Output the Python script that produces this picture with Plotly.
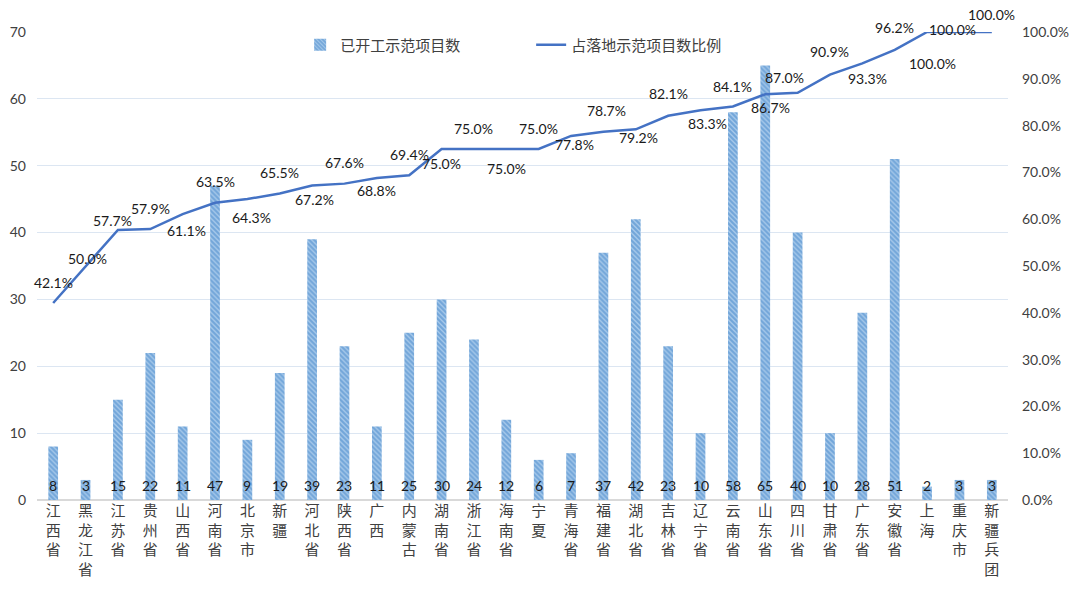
import plotly.graph_objects as go

categories = ["江西省", "黑龙江省", "江苏省", "贵州省", "山西省", "河南省", "北京市", "新疆",
              "河北省", "陕西省", "广西", "内蒙古", "湖南省", "浙江省", "海南省", "宁夏",
              "青海省", "福建省", "湖北省", "吉林省", "辽宁省", "云南省", "山东省", "四川省",
              "甘肃省", "广东省", "安徽省", "上海", "重庆市", "新疆兵团"]
started = [8, 3, 15, 22, 11, 47, 9, 19, 39, 23, 11, 25, 30, 24, 12, 6, 7, 37, 42, 23,
           10, 58, 65, 40, 10, 28, 51, 2, 3, 3]
ratio = [0.421, 0.500, 0.577, 0.579, 0.611, 0.635, 0.643, 0.655, 0.672, 0.676, 0.688, 0.694,
         0.750, 0.750, 0.750, 0.750, 0.778, 0.787, 0.792, 0.821, 0.833, 0.841, 0.867, 0.870,
         0.909, 0.933, 0.962, 1.000, 1.000, 1.000]

# label offsets in pixels (style only): horizontal and vertical shift of each ratio label
label_dx = [0, 2, -5, 0, 4, 0, 4, 0, 2, 0, 0, 0, 0, 0, 0, 0,
            3, 3, 3, 0, 7, 0, 5, -13, 0, 5, 0, 5, -7, 0]
label_dy = [20, 8, 9, 21, -16, 21, -18, 21, -14, 21, -12, 21, -14, 21, -19, 21,
            -9, 21, -8, 22, -13, 20, -13, 15, 23, -15, 22, -31, 3, 18]

left_ticks = [0, 10, 20, 30, 40, 50, 60, 70]
right_ticks = [0, 0.1, 0.2, 0.3, 0.4, 0.5, 0.6, 0.7, 0.8, 0.9, 1.0]

FONT = "Lato, Noto Sans CJK SC, sans-serif"
CJK = "Noto Sans CJK SC, sans-serif"
tick_text = ["<br>".join(list(c)) for c in categories]

fig = go.Figure()
fig.add_trace(go.Bar(
    x=categories, y=started, name="已开工示范项目数", width=0.3,
    marker=dict(color="#3C82C8", line=dict(color="#5B9BD5", width=0),
                pattern=dict(shape="\\", fgcolor="#3C82C8", bgcolor="#A7C9EA",
                             size=3.5, solidity=0.6)),
    yaxis="y",
))
fig.add_trace(go.Scatter(
    x=categories, y=ratio, name="占落地示范项目数比例", mode="lines",
    line=dict(color="#4472C4", width=2.5), yaxis="y2",
))

ann = []
for c, v in zip(categories, started):
    ann.append(dict(x=c, y=0, xref="x", yref="y", text=str(v), showarrow=False,
                    yshift=15, font=dict(family=FONT, size=14, color="#1a1a1a")))
for c, r, dx, dy in zip(categories, ratio, label_dx, label_dy):
    ann.append(dict(x=c, y=r, xref="x", yref="y2", text=f"{r*100:.1f}%", showarrow=False,
                    yshift=dy, xshift=dx,
                    font=dict(family=FONT, size=14, color="#1a1a1a")))

fig.update_layout(
    width=1080, height=594,
    margin=dict(l=37, r=72, t=32, b=94, autoexpand=False),
    paper_bgcolor="white", plot_bgcolor="white",
    font=dict(family=FONT, size=14, color="#404040"),
    showlegend=True,
    legend=dict(orientation="h", x=0.271, xanchor="left", y=0.972, yanchor="middle",
                font=dict(family=CJK, size=15, color="#404040"),
                bgcolor="rgba(0,0,0,0)", itemwidth=30, entrywidth=186,
                entrywidthmode="pixels"),
    bargap=0.7,
    xaxis=dict(tickmode="array", tickvals=categories, ticktext=tick_text,
               range=[-0.5, len(categories) - 0.5],
               tickfont=dict(family=CJK, size=15, color="#404040"),
               showgrid=False, showline=False, ticks="", tickangle=0, automargin=False),
    yaxis=dict(range=[0, 70], tickvals=left_ticks, showgrid=True, gridcolor="#DCE6F2",
               gridwidth=1, zeroline=True, zerolinecolor="#D9D9D9", zerolinewidth=1.5,
               tickfont=dict(family=FONT, size=14, color="#404040"), ticks="",
               ticklabelstandoff=10, showline=False, automargin=False),
    yaxis2=dict(range=[0, 1.0], tickvals=right_ticks, tickformat=".1%", overlaying="y",
                side="right", showgrid=False, zeroline=False, automargin=False,
                ticklabelstandoff=13,
                tickfont=dict(family=FONT, size=14, color="#404040"), ticks=""),
    annotations=ann,
)

fig.write_html("out.html", config={"displayModeBar": False},
               post_script="document.body.style.margin='0';")
